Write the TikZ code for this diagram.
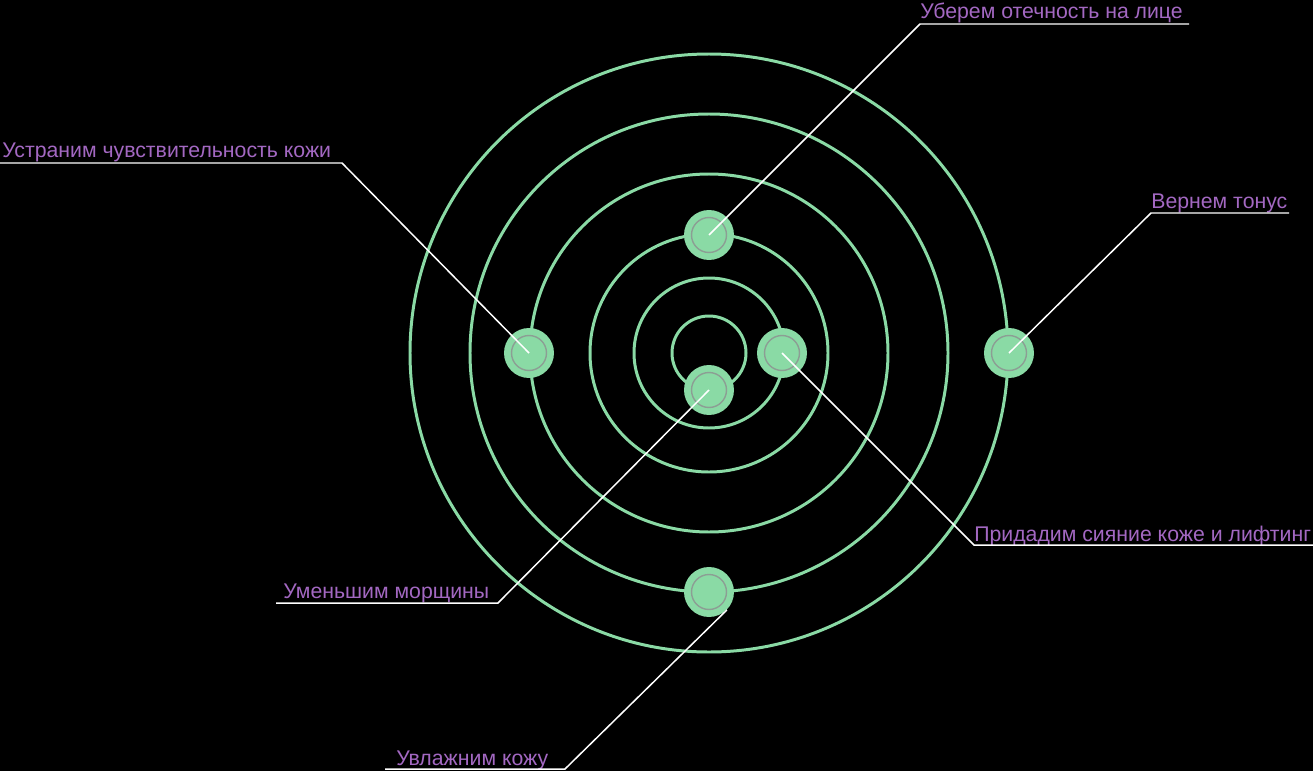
\documentclass[tikz,border=0pt]{standalone}
\usepackage{fontspec}
\setmainfont{Liberation Sans}
\usepackage{tikz}
\usetikzlibrary{positioning, calc, backgrounds}
\definecolor{verdeorb}{RGB}{138,218,165}
\definecolor{grigioanello}{RGB}{140,158,148}
\definecolor{violalabel}{RGB}{163,104,194}

\begin{document}
\begin{tikzpicture}[x=0.02cm,y=-0.02cm,
    orbita/.style={draw=verdeorb,line width=1.7pt},
    punto/.style={circle,fill=verdeorb,minimum size=1cm,inner sep=0pt},
    anello/.style={draw=grigioanello,line width=0.8pt},
    guida/.style={draw=white,line width=0.85pt},
    etichetta/.style={anchor=base west,inner sep=0pt,text=violalabel,font=\fontsize{12.1}{14}\selectfont}]
    % Sfondo
    \path[use as bounding box,fill=black] (0,0) rectangle (1313,771);

    % Cerchi concentrici
    \coordinate (centro) at (709,353);
    \foreach \r in {299,239,179,119,75,37}
        \draw[orbita] (centro) circle (\r);

    % Punti
    \node[punto] (pOtech) at (709,235) {};
    \node[punto] (pChuv) at (529,353) {};
    \node[punto] (pSiyan) at (782,353) {};
    \node[punto] (pMorsh) at (709,390) {};
    \node[punto] (pTonus) at (1009,353) {};
    \node[punto] (pVlag) at (709,592) {};
    \foreach \p in {pOtech,pChuv,pSiyan,pMorsh,pTonus,pVlag}
        \draw[anello] (\p.center) circle (17.5);

    % Etichette
    \node[etichetta] (tOtech) at (920,18) {Уберем отечность на лице};
    \node[etichetta] (tChuv) at (2,157) {Устраним чувствительность кожи};
    \node[etichetta] (tTonus) at (1151,208) {Вернем тонус};
    \node[etichetta] (tSiyan) at (974,541) {Придадим сияние коже и лифтинг};
    \node[etichetta] (tMorsh) at (283,598) {Уменьшим морщины};
    \node[etichetta] (tVlag) at (396,765) {Увлажним кожу};

    % Linee guida
    \coordinate (aOtech) at (920,24);   \coordinate (bOtech) at (1189,24);
    \coordinate (aChuv) at (342,163);   \coordinate (bChuv) at (0,163);
    \coordinate (aTonus) at (1151,213); \coordinate (bTonus) at (1289,213);
    \coordinate (aSiyan) at (974,545);  \coordinate (bSiyan) at (1313,545);
    \coordinate (aMorsh) at (498,603);  \coordinate (bMorsh) at (276,603);
    \coordinate (aVlag) at (565,769);   \coordinate (bVlag) at (385,769);
    \draw[guida] (pOtech.center) -- (aOtech) -- (bOtech);
    \draw[guida] (pChuv.center) -- (aChuv) -- (bChuv);
    \draw[guida] (pTonus.center) -- (aTonus) -- (bTonus);
    \draw[guida] (pSiyan.center) -- (aSiyan) -- (bSiyan);
    \draw[guida] (pMorsh.center) -- (aMorsh) -- (bMorsh);
    \draw[guida] (pVlag.-45) -- (aVlag) -- (bVlag);
\end{tikzpicture}
\end{document}
